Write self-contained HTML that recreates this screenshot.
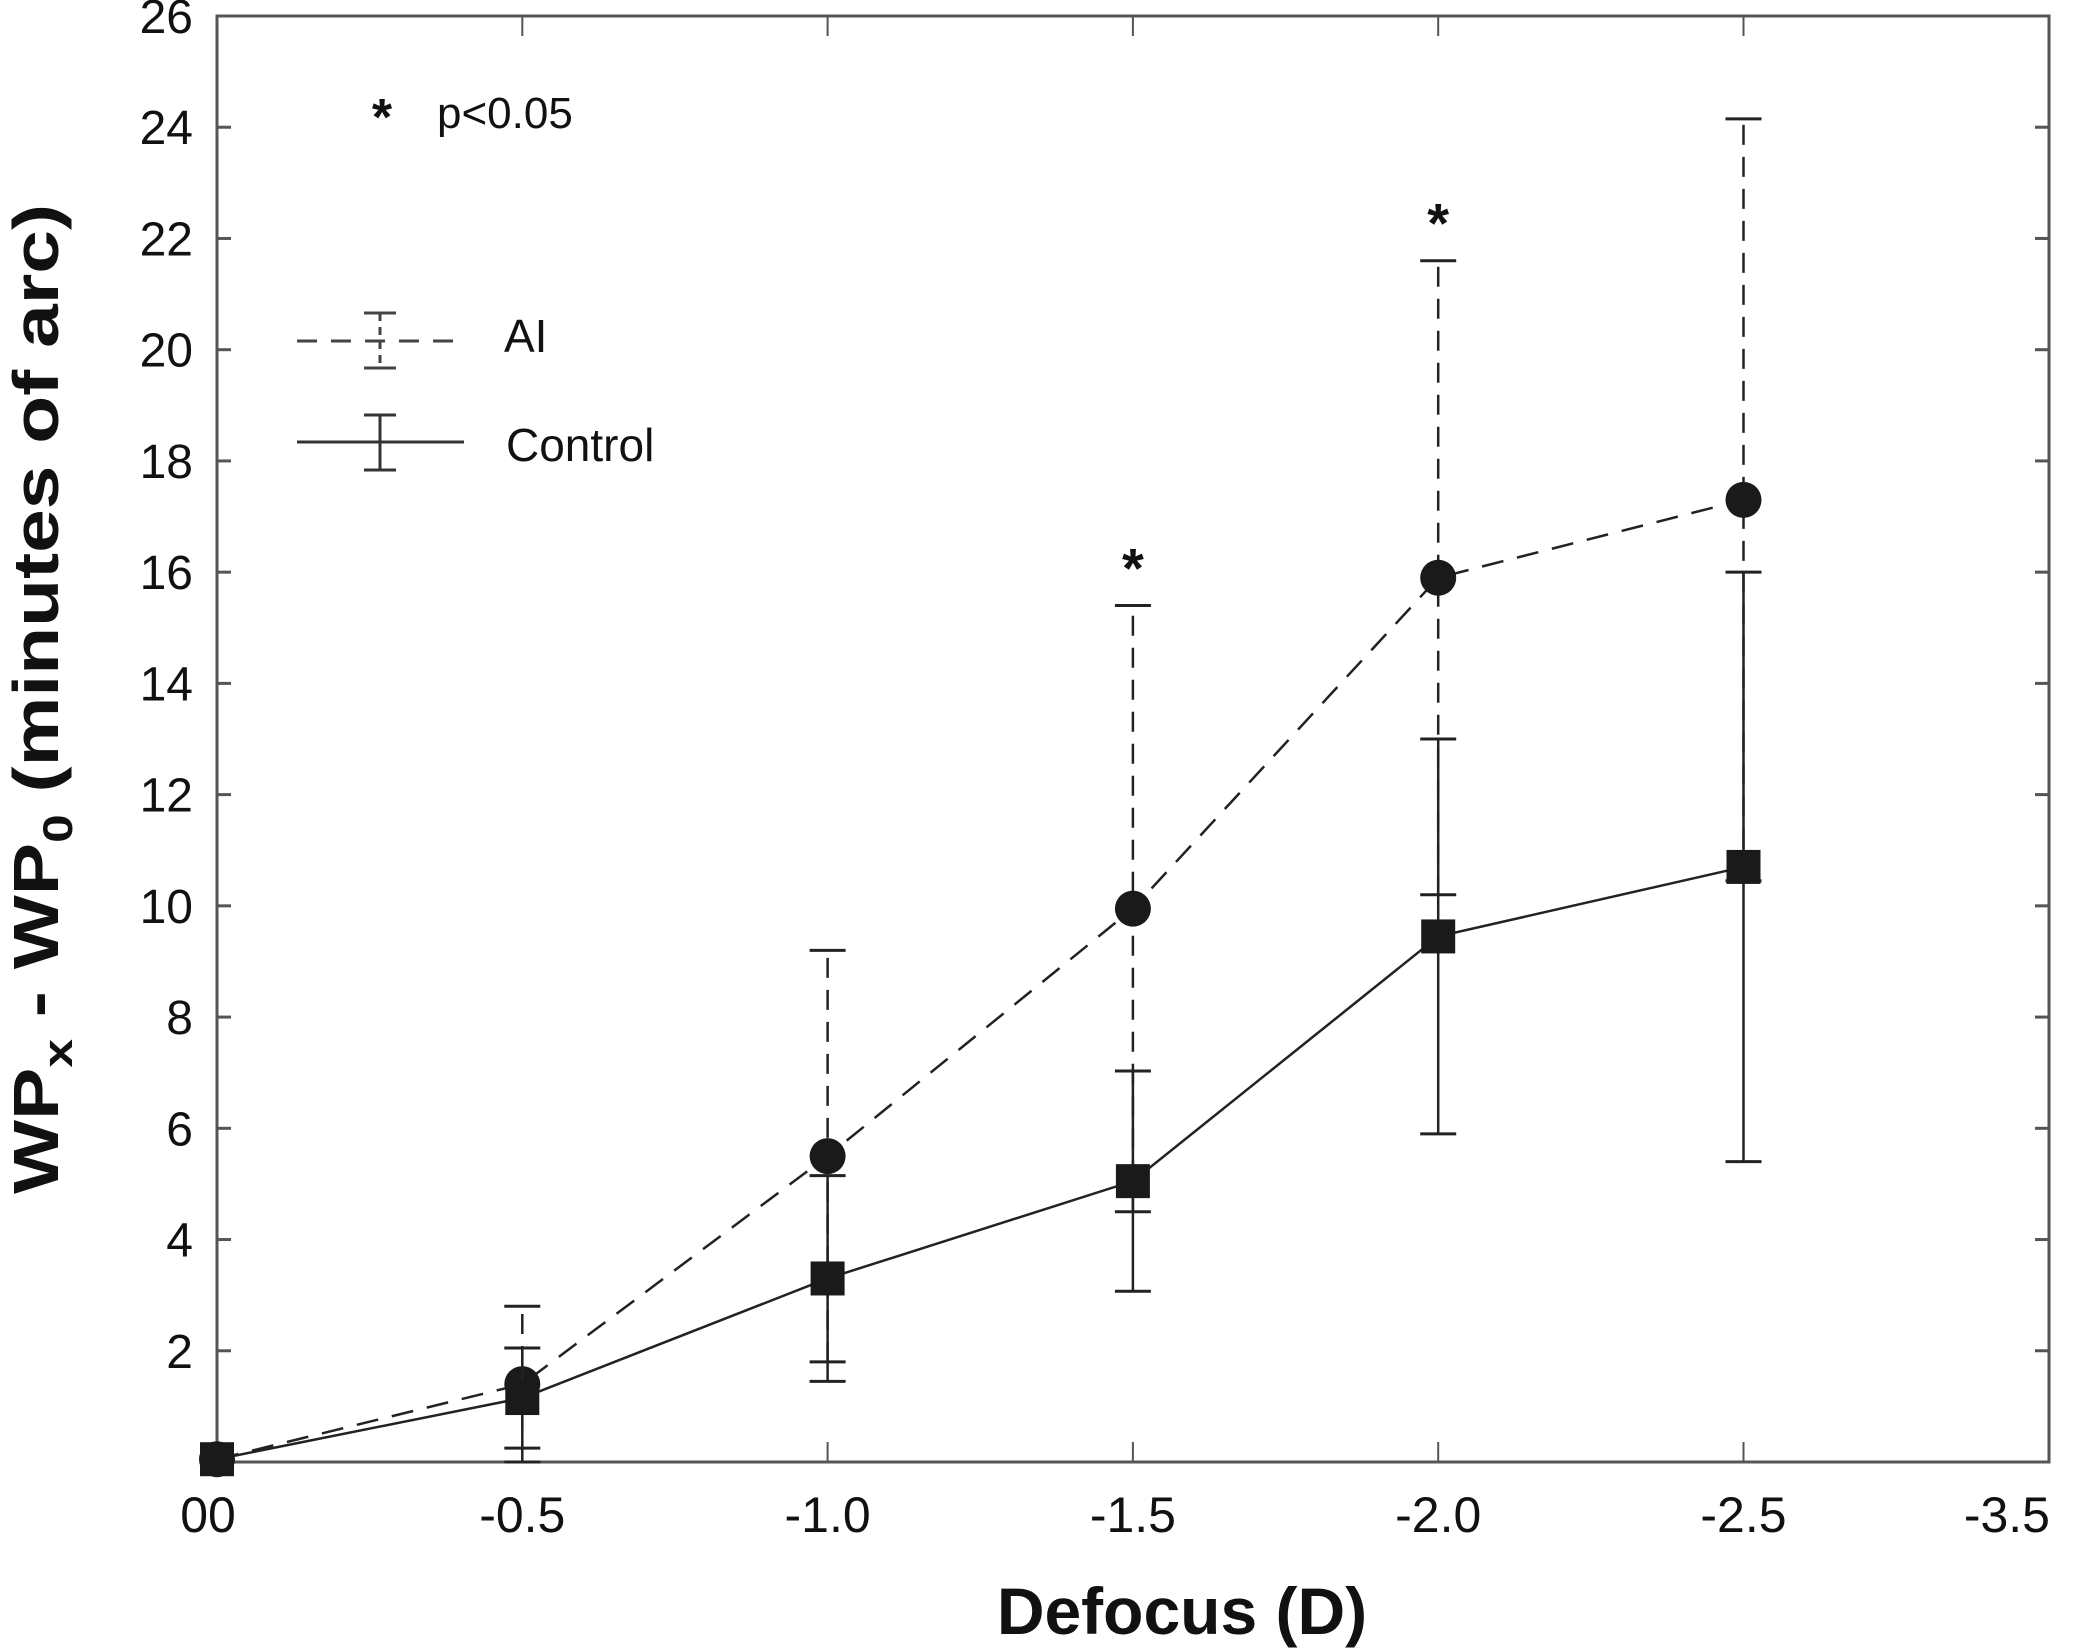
<!DOCTYPE html>
<html><head><meta charset="utf-8"><style>
html,body{margin:0;padding:0;background:#fff}
svg{display:block}
text{font-family:"Liberation Sans",Arial,sans-serif;fill:#111}
</style></head><body>
<svg id="chart" width="2083" height="1652" viewBox="0 0 2083 1652" xmlns="http://www.w3.org/2000/svg">
<g id="axes"></g>
<g id="series"></g>
<g id="legend">
  <text x="382" y="135" font-size="52" font-weight="bold" text-anchor="middle">*</text>
  <text x="437" y="128" font-size="44">p&lt;0.05</text>
  <line x1="297" y1="341" x2="466" y2="341" stroke="#444" stroke-width="3" stroke-dasharray="20,14"/>
  <line x1="380" y1="313" x2="380" y2="368" stroke="#444" stroke-width="3" stroke-dasharray="8,6"/>
  <line x1="364" y1="313" x2="396" y2="313" stroke="#444" stroke-width="3"/>
  <line x1="364" y1="368" x2="396" y2="368" stroke="#444" stroke-width="3"/>
  <text x="504" y="352" font-size="46">AI</text>
  <line x1="297" y1="442" x2="464" y2="442" stroke="#333" stroke-width="3"/>
  <line x1="380" y1="415" x2="380" y2="470" stroke="#333" stroke-width="3"/>
  <line x1="364" y1="415" x2="396" y2="415" stroke="#333" stroke-width="3"/>
  <line x1="364" y1="470" x2="396" y2="470" stroke="#333" stroke-width="3"/>
  <text x="506" y="461" font-size="46">Control</text>
</g>
<text x="1182" y="1634" font-size="66" font-weight="bold" text-anchor="middle">Defocus (D)</text>
<text transform="translate(58,1194) rotate(-90)" font-size="64" font-weight="bold" textLength="990" lengthAdjust="spacingAndGlyphs">WP<tspan font-size="42" dy="14">x</tspan><tspan dy="-14"> - WP</tspan><tspan font-size="42" dy="14">0</tspan><tspan dy="-14"> (minutes of arc)</tspan></text>
</svg>
<script>
const xCategories = [0, -0.5, -1.0, -1.5, -2.0, -2.5];
const aiMeans = [0.05, 1.4, 5.5, 9.95, 15.9, 17.3];
const aiErrors = [0, 1.4, 3.7, 5.45, 5.7, 6.85];
const controlMeans = [0.05, 1.15, 3.3, 5.05, 9.45, 10.7];
const controlErrors = [0, 0.9, 1.85, 1.98, 3.55, 5.3];
const significant = [-1.5, -2.0];
const yTicks = [2,4,6,8,10,12,14,16,18,20,22,24,26];
const xTickLabels = ["00","-0.5","-1.0","-1.5","-2.0","-2.5","-3.5"];

const L=217, R=2049, T=16, B=1462;
const NS="http://www.w3.org/2000/svg";
const xs = v => L + (-v)/0.5*305.3;
const ys = v => B - v*(B-T)/26;
function mk(parent, tag, attrs){const e=document.createElementNS(NS,tag);for(const k in attrs)e.setAttribute(k,attrs[k]);parent.appendChild(e);return e;}
const axes=document.getElementById('axes'), series=document.getElementById('series');

let box=mk(axes,'rect',{x:L,y:T,width:R-L,height:B-T,fill:'none',stroke:'#555','stroke-width':3});


yTicks.forEach(v=>{
  const y=ys(v);
  let t=mk(axes,'line',{x1:L,x2:L+14,y1:y,y2:y,stroke:'#555','stroke-width':3});
  
  
  let t2=mk(axes,'line',{x1:R-14,x2:R,y1:y,y2:y,stroke:'#555','stroke-width':3});
  
  
  let lb=mk(axes,'text',{x:193,y:y+17,'font-size':48,'text-anchor':'end'});
  lb.textContent=v;
  
  
});
xTickLabels.forEach((s,i)=>{
  const x=L+i*305.3;
  let t=mk(axes,'line',{x1:x,x2:x,y1:B-20,y2:B,stroke:'#555','stroke-width':2});
  
  
  let t2=mk(axes,'line',{x1:x,x2:x,y1:T,y2:T+20,stroke:'#555','stroke-width':2});
  
  
  let lb=mk(axes,'text',{x:i===0?208:(i===6?2050:x),y:1532,'font-size':50,'text-anchor':i===6?'end':'middle'});
  lb.textContent=s;
  
  
});

function drawSeries(means, errs, dashed, marker, name){
  const g=mk(series,'g',{});
  
  
  const col='#222';
  means.forEach((m,i)=>{
    if(errs[i]<=0) return;
    const x=xs(xCategories[i]);
    let eb=mk(g,'line',{x1:x,x2:x,y1:ys(m-errs[i]),y2:ys(m+errs[i]),stroke:col,'stroke-width':2.5});
    if(dashed) eb.setAttribute('stroke-dasharray','20,12');
    
    
    [m-errs[i],m+errs[i]].forEach(v=>{
      let c=mk(g,'line',{x1:x-18,x2:x+18,y1:ys(v),y2:ys(v),stroke:col,'stroke-width':3});
      
      
    });
  });
  const pts=means.map((m,i)=>xs(xCategories[i])+','+ys(m)).join(' ');
  let pl=mk(g,'polyline',{points:pts,fill:'none',stroke:col,'stroke-width':2.5});
  if(dashed) pl.setAttribute('stroke-dasharray','22,14');
  
  
  means.forEach((m,i)=>{
    const x=xs(xCategories[i]), y=ys(m);
    let p = marker==='circle' ? mk(g,'circle',{cx:x,cy:y,r:18,fill:'#1a1a1a'})
                              : mk(g,'rect',{x:x-17,y:y-17,width:34,height:34,fill:'#1a1a1a'});
    
    
  });
}
drawSeries(aiMeans, aiErrors, true, 'circle', 'ai');
drawSeries(controlMeans, controlErrors, false, 'square', 'control');

significant.forEach(v=>{
  const i=xCategories.indexOf(v);
  const top=aiMeans[i]+aiErrors[i];
  let s=mk(series,'text',{x:xs(v),y:ys(top)-18,'font-size':56,'font-weight':'bold','text-anchor':'middle'});
  s.textContent='*';
  
  
});
</script>
</body></html>
